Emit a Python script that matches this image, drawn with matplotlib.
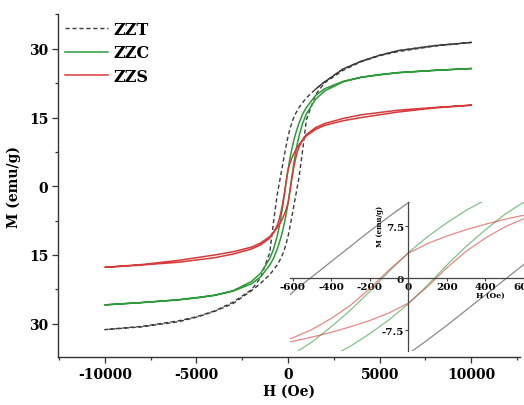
import matplotlib
matplotlib.use("Agg")
import matplotlib.pyplot as plt
from matplotlib.ticker import FixedLocator, FixedFormatter, MultipleLocator
import numpy as np

plt.rcParams['font.family'] = ['DejaVu Serif']
plt.rcParams['font.weight'] = 'bold'
plt.rcParams['axes.unicode_minus'] = False

# applied field (Oe)
H = [-10000, -8000, -6000, -5000, -4000, -3000, -2000, -1500, -1000, -800, -600, -500,
     -400, -300, -200, -100, 0, 100, 200, 300, 400, 500, 600, 800, 1000, 1500,
     2000, 3000, 4000, 5000, 6000, 8000, 10000]

# magnetisation (emu/g), branch coming down from +H ("up") and going up from -H ("low")
zzt_up = [-31.3, -30.6, -29.4, -28.5, -27.2, -25.3, -22.6, -20.0, -14.5, -8.0, -2.0, 0.2,
          2.4, 4.6, 6.8, 8.9, 10.9, 12.5, 13.8, 14.9, 15.8, 16.5, 17.2, 18.3, 19.3, 21.2,
          22.8, 25.6, 27.3, 28.6, 29.6, 30.7, 31.4]
zzt_low = [-31.3, -30.7, -29.6, -28.6, -27.3, -25.6, -22.8, -21.2, -19.3, -18.3, -17.2, -16.5,
           -15.8, -14.9, -13.8, -12.5, -10.9, -8.9, -6.8, -4.6, -2.4, -0.2, 2.0, 8.0, 14.5, 20.0,
           22.6, 25.3, 27.2, 28.5, 29.4, 30.6, 31.4]

zzc_up = [-25.9, -25.4, -24.8, -24.3, -23.8, -22.8, -20.8, -19.0, -15.8, -13.8, -11.0, -9.2,
          -7.0, -4.6, -1.9, 1.0, 3.7, 6.0, 8.0, 9.8, 11.3, 12.6, 13.8, 15.8, 17.2, 19.8,
          21.3, 22.9, 23.8, 24.4, 24.8, 25.3, 25.7]
zzc_low = [-25.9, -25.4, -24.8, -24.4, -23.8, -22.9, -21.3, -19.8, -17.2, -15.8, -13.8, -12.6,
           -11.3, -9.8, -8.0, -6.0, -3.7, -1.0, 1.9, 4.6, 7.0, 9.2, 11.0, 13.8, 15.8, 19.0,
           20.8, 22.8, 23.8, 24.3, 24.8, 25.3, 25.7]

zzs_up = [-17.7, -17.2, -16.6, -16.1, -15.6, -14.8, -13.7, -12.8, -11.3, -10.2, -8.6, -7.4,
          -5.8, -3.9, -1.5, 1.2, 3.6, 5.0, 6.1, 7.0, 7.8, 8.5, 9.1, 10.1, 11.0, 12.4,
          13.3, 14.3, 15.0, 15.6, 16.2, 17.1, 17.7]
zzs_low = [-17.7, -17.1, -16.2, -15.6, -15.0, -14.3, -13.3, -12.4, -11.0, -10.1, -9.1, -8.5,
           -7.8, -7.0, -6.1, -5.0, -3.6, -1.2, 1.5, 3.9, 5.8, 7.4, 8.6, 10.2, 11.3, 12.8,
           13.7, 14.8, 15.6, 16.1, 16.6, 17.2, 17.7]

names = ['ZZT', 'ZZC', 'ZZS']
colors = ['#3c3c3c', '#2e9a3a', '#d83a3a']

y_ticks = [-30, -15, 0, 15, 30]
y_ticklabels = ['30', '15', '0', '15', '30']   # as printed in the figure
x_ticks = [-10000, -5000, 0, 5000, 10000]
inset_x_ticks = [-600, -400, -200, 0, 200, 400, 600]
inset_y_ticks = [-7.5, 0, 7.5]


def loop(up, low):
    # go down along the upper branch, come back along the lower one
    hx = H[::-1] + H
    m = up[::-1] + low
    return np.array(hx), np.array(m)


fig = plt.figure(figsize=(5.24, 4.06), dpi=100)
ax = fig.add_axes([0.111, 0.118, 0.881, 0.845])

loops = [loop(zzt_up, zzt_low), loop(zzc_up, zzc_low), loop(zzs_up, zzs_low)]

ax.plot(*loops[0], color=colors[0], lw=1.0, ls=(0, (3, 2)), label=names[0])
# near saturation the two ZZT branches merge and read as one solid line
h_arr = np.array(H)
ax.plot(h_arr[h_arr >= 1500], np.array(zzt_up)[h_arr >= 1500], color=colors[0], lw=1.0)
ax.plot(*loops[1], color=colors[1], lw=1.1, label=names[1])
ax.plot(*loops[2], color=colors[2], lw=1.1, label=names[2])

ax.set_xlim(-12550, 12650)
ax.set_ylim(-37.3, 37.6)
ax.spines['top'].set_visible(False)
ax.spines['right'].set_visible(False)
for s in ['left', 'bottom']:
    ax.spines[s].set_color('#333333')
    ax.spines[s].set_linewidth(1.0)

ax.xaxis.set_major_locator(FixedLocator(x_ticks))
ax.xaxis.set_minor_locator(MultipleLocator(2500))
ax.yaxis.set_major_locator(FixedLocator(y_ticks))
ax.yaxis.set_major_formatter(FixedFormatter(y_ticklabels))
ax.yaxis.set_minor_locator(MultipleLocator(7.5))
ax.tick_params(which='major', direction='out', length=4, width=0.9, color='#333333',
               labelsize=10, pad=3)
ax.tick_params(which='minor', direction='out', length=2.5, width=0.9, color='#333333')

ax.set_xlabel('H (Oe)', fontsize=10, fontweight='bold', labelpad=2)
ax.set_ylabel('M (emu/g)', fontsize=10, fontweight='bold', labelpad=6)

ax.legend(loc='upper left', bbox_to_anchor=(0.008, 0.99), frameon=False,
          fontsize=11.5, handlelength=2.7, handletextpad=0.3, labelspacing=0.42,
          borderaxespad=0, borderpad=0.2)

# inset: zoom on the low-field part of the loops
axin = fig.add_axes([0.553, 0.133, 0.447, 0.367])
axin.set_facecolor('none')
for (lx, lm), c in zip(loops, colors):
    axin.plot(lx, lm, color=c, lw=0.9, alpha=0.6)
axin.set_xlim(-615, 600)
axin.set_ylim(-10.5, 11)
axin.spines['top'].set_visible(False)
axin.spines['right'].set_visible(False)
axin.spines['left'].set_position(('data', 0))
axin.spines['bottom'].set_position(('data', 0))
for s in ['left', 'bottom']:
    axin.spines[s].set_color('#444444')
    axin.spines[s].set_linewidth(0.9)
axin.xaxis.set_major_locator(FixedLocator(inset_x_ticks))
axin.yaxis.set_major_locator(FixedLocator(inset_y_ticks))
axin.yaxis.set_major_formatter(FixedFormatter(['-7.5', '0', '7.5']))
axin.tick_params(direction='out', length=2, width=0.8, color='#444444', labelsize=7.5, pad=1)
axin.text(0.385, 0.84, 'M (emu/g)', transform=axin.transAxes, rotation=90,
          fontsize=5, fontweight='bold', ha='center', va='center')
axin.text(0.855, 0.38, 'H (Oe)', transform=axin.transAxes,
          fontsize=5.5, fontweight='bold', ha='center', va='center')

fig.savefig('out.png', dpi=100)
